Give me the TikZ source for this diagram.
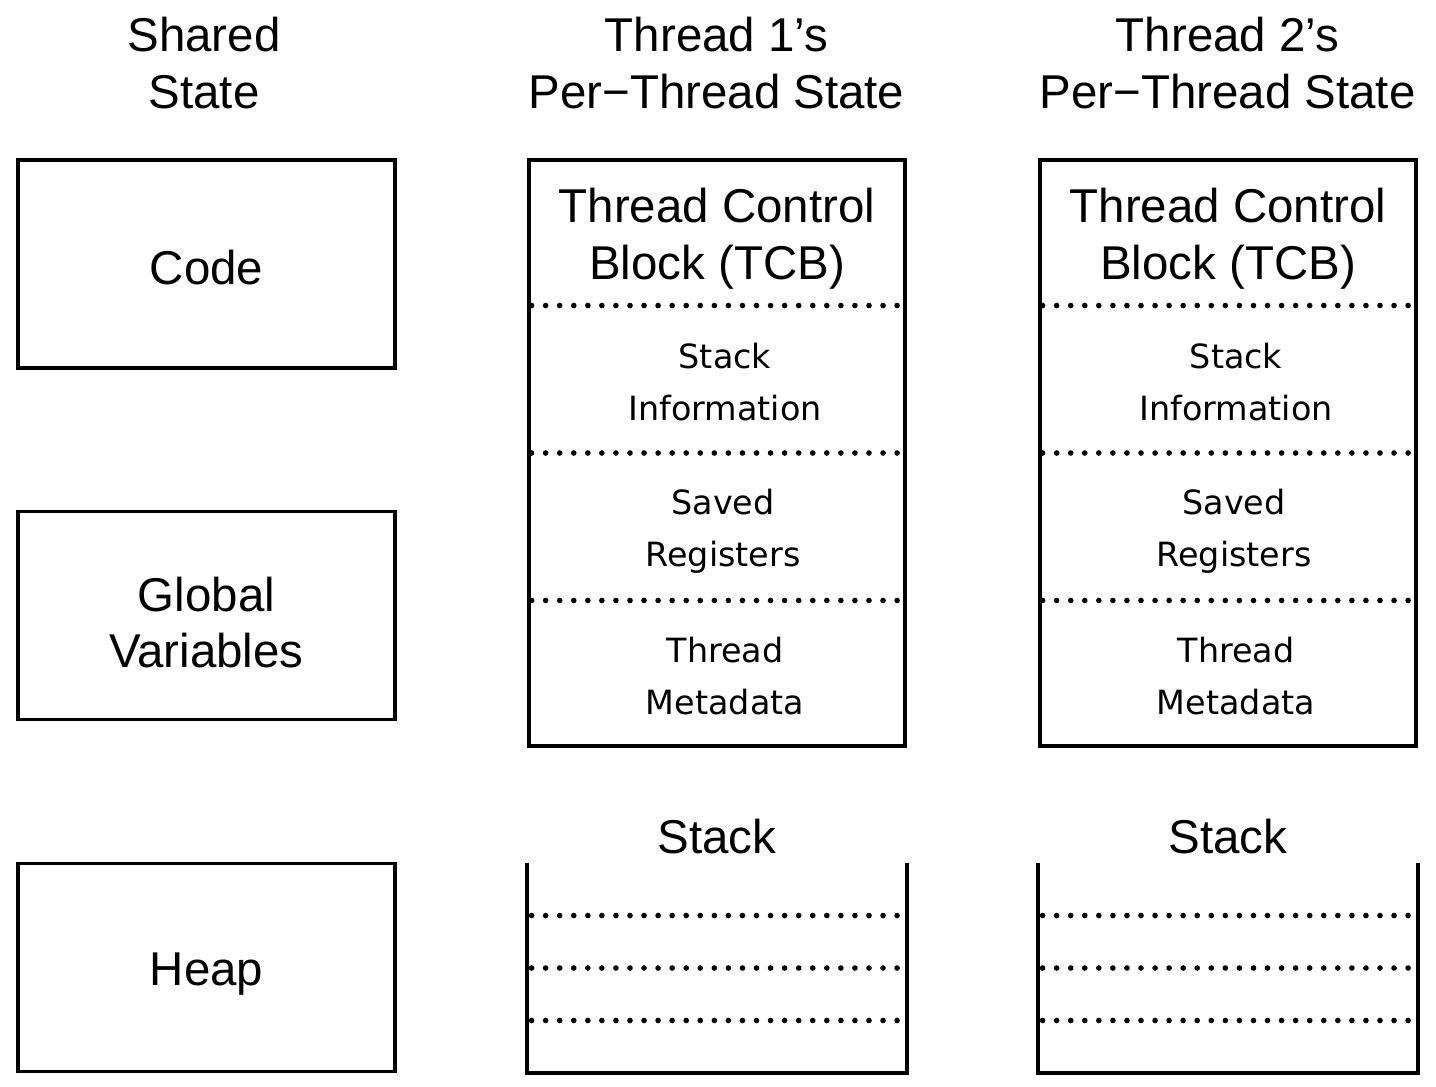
\documentclass[tikz,border=0pt]{standalone}
\usepackage{fontspec}
\setmainfont{Liberation Sans}
\newfontfamily\partfont{DejaVu Sans}
\usepackage{tikz}
\usetikzlibrary{calc}
\usetikzlibrary{positioning}
\newcommand{\bigtxt}{\fontsize{13.5}{16.2}\selectfont}
\newcommand{\smalltxt}{\partfont\fontsize{9.5}{14.7}\selectfont}
\tikzstyle{shared}=[rectangle,draw=black,inner sep=0mm,minimum width=3.77cm,minimum height=2.08cm]
\tikzstyle{tcb}=[rectangle,draw=black,inner sep=0mm,minimum width=3.76cm,minimum height=5.86cm]
\tikzstyle{stackbox}=[rectangle,inner sep=0mm,minimum width=3.76cm,minimum height=2.06cm]
\tikzstyle{title}=[font=\bigtxt,align=center,inner sep=0mm]
\tikzstyle{part}=[font=\smalltxt,align=center,inner sep=0mm]
\tikzstyle{dots}=[line width=1.6pt,line cap=round,dash pattern=on 0pt off 4pt,shorten <=0.045cm,shorten >=0.045cm]
\tikzset{every picture/.style={
    line width=1.1pt
  }
}

\begin{document}
\begin{tikzpicture}
      \useasboundingbox (0,0) rectangle (14.36,-10.86);
      % shared state
      \node[title] at (2.04,-0.63) (sharedhd) {Shared\\State};
      \node[shared] at (2.065,-2.64) (code) {};
      \node[title] at (2.065,-2.68) (codetxt) {Code};
      \node[shared] at (2.065,-6.155) (globals) {};
      \node[title] at (2.065,-6.225) (globalstxt) {Global\\Variables};
      \node[shared] at (2.065,-9.675) (heap) {};
      \node[title] at (2.065,-9.745) (heaptxt) {Heap};
      % thread 1
      \node[title] at (7.165,-0.63) (threadAhd) {Thread 1’s\\Per−Thread State};
      \node[tcb] at (7.17,-4.53) (tcbA) {};
      \node[title] at (7.17,-2.385) (tcbAtxt) {Thread Control\\Block (TCB)};
      \node[part] at (7.25,-3.82) (stkinfoA) {Stack\\Information};
      \node[part] at (7.23,-5.315) (savedA) {Saved\\Registers};
      \node[part] at (7.25,-6.76) (metaA) {Thread\\Metadata};
      \draw[dots] ($(tcbA.north west)!0.25!(tcbA.south west)$) -- ($(tcbA.north east)!0.25!(tcbA.south east)$);
      \draw[dots] ($(tcbA.north west)!0.5!(tcbA.south west)$) -- ($(tcbA.north east)!0.5!(tcbA.south east)$);
      \draw[dots] ($(tcbA.north west)!0.75!(tcbA.south west)$) -- ($(tcbA.north east)!0.75!(tcbA.south east)$);
      \node[stackbox] at (7.17,-9.68) (stkA) {};
      \node[title,above=0.07cm of stkA] (stkAlbl) {Stack};
      \draw (stkA.north west) -- (stkA.south west) -- (stkA.south east) -- (stkA.north east);
      \draw[dots] ($(stkA.north west)!0.25!(stkA.south west)$) -- ($(stkA.north east)!0.25!(stkA.south east)$);
      \draw[dots] ($(stkA.north west)!0.5!(stkA.south west)$) -- ($(stkA.north east)!0.5!(stkA.south east)$);
      \draw[dots] ($(stkA.north west)!0.75!(stkA.south west)$) -- ($(stkA.north east)!0.75!(stkA.south east)$);
      % thread 2
      \node[title] at (12.275,-0.63) (threadBhd) {Thread 2’s\\Per−Thread State};
      \node[tcb] at (12.28,-4.53) (tcbB) {};
      \node[title] at (12.28,-2.385) (tcbBtxt) {Thread Control\\Block (TCB)};
      \node[part] at (12.36,-3.82) (stkinfoB) {Stack\\Information};
      \node[part] at (12.34,-5.315) (savedB) {Saved\\Registers};
      \node[part] at (12.36,-6.76) (metaB) {Thread\\Metadata};
      \draw[dots] ($(tcbB.north west)!0.25!(tcbB.south west)$) -- ($(tcbB.north east)!0.25!(tcbB.south east)$);
      \draw[dots] ($(tcbB.north west)!0.5!(tcbB.south west)$) -- ($(tcbB.north east)!0.5!(tcbB.south east)$);
      \draw[dots] ($(tcbB.north west)!0.75!(tcbB.south west)$) -- ($(tcbB.north east)!0.75!(tcbB.south east)$);
      \node[stackbox] at (12.28,-9.68) (stkB) {};
      \node[title,above=0.07cm of stkB] (stkBlbl) {Stack};
      \draw (stkB.north west) -- (stkB.south west) -- (stkB.south east) -- (stkB.north east);
      \draw[dots] ($(stkB.north west)!0.25!(stkB.south west)$) -- ($(stkB.north east)!0.25!(stkB.south east)$);
      \draw[dots] ($(stkB.north west)!0.5!(stkB.south west)$) -- ($(stkB.north east)!0.5!(stkB.south east)$);
      \draw[dots] ($(stkB.north west)!0.75!(stkB.south west)$) -- ($(stkB.north east)!0.75!(stkB.south east)$);
    \end{tikzpicture}
\end{document}
